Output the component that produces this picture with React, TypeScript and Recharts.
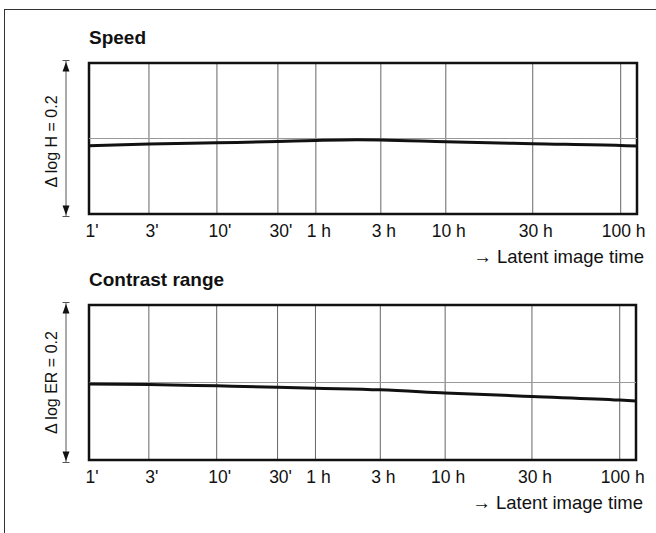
import { LineChart, Line, XAxis, YAxis, CartesianGrid, ReferenceLine, ReferenceArea, Label } from 'recharts';

// time axis (minutes) and its labels
const tickMinutes = [1, 3, 10, 30, 60, 180, 600, 1800, 6000];
const tickLabels = ["1'", "3'", "10'", "30'", '1 h', '3 h', '10 h', '30 h', '100 h'];
const axisEndMinutes = 7500;

// Speed: change of log H against latent image time
const speedMinutes = [1, 3, 10, 30, 60, 120, 180, 600, 1800, 6000, 7500];
const speedDelta = [-0.0097, -0.0074, -0.0057, -0.004, -0.0026, -0.0017, -0.002, -0.0044, -0.007, -0.0093, -0.01];

// Contrast range: change of log ER against latent image time
const contrastMinutes = [1, 3, 10, 30, 60, 180, 600, 1800, 6000, 7500];
const contrastDelta = [-0.002, -0.0026, -0.0043, -0.006, -0.0073, -0.0095, -0.0134, -0.0181, -0.0227, -0.024];

// the printed time scale is hand spaced, so map minutes onto it piecewise (log between ticks)
const axisStops = [0, 60, 128, 189, 227, 292, 357, 444, 532];
const logTicks = tickMinutes.map(Math.log10);

function toAxis(min: number) {
  const lm = Math.log10(min);
  let i = 0;
  while (i < logTicks.length - 2 && lm > logTicks[i + 1]) i++;
  const t = (lm - logTicks[i]) / (logTicks[i + 1] - logTicks[i]);
  return axisStops[i] + t * (axisStops[i + 1] - axisStops[i]);
}

const xTicks = tickMinutes.map(toAxis);
const xMax = toAxis(axisEndMinutes);
const FONT = '"Liberation Sans", Arial, Helvetica, sans-serif';

function TimeTick(props: any) {
  const { x, y, payload } = props;
  const idx = xTicks.findIndex((v) => Math.abs(v - payload.value) < 0.5);
  return (
    <text x={x + 3} y={y} dy="0.71em" textAnchor="middle" fontSize={17.5} fill="#111" fontFamily={FONT}>
      {tickLabels[idx]}
    </text>
  );
}

interface PanelProps {
  title: string;
  yLabel: string;
  minutes: number[];
  delta: number[];
  height: number;
  top: number;
  right: number;
  labelShift: number;
}

function Panel({ title, yLabel, minutes, delta, height, top, right, labelShift }: PanelProps) {
  const data = minutes.map((m, i) => ({ x: toAxis(m), v: delta[i] }));

  const side = (p: any) => {
    const vb = p.viewBox || { x: 29, y: top, width: 60, height: height - top - 56 };
    const ax = vb.x + 37;
    const y0 = vb.y - 2.5;
    const y1 = vb.y + vb.height + 2.5;
    const cy = vb.y + vb.height / 2 + labelShift;
    return (
      <g>
        <text x={vb.x + vb.width} y={vb.y - 19.5} fontSize={19} fontWeight="bold" fill="#111" fontFamily={FONT}>
          {title}
        </text>
        <line x1={ax} x2={ax} y1={y0} y2={y1} stroke="#555" strokeWidth={1} />
        <line x1={ax - 3.5} x2={ax + 3.5} y1={y0} y2={y0} stroke="#555" strokeWidth={1} />
        <line x1={ax - 3.5} x2={ax + 3.5} y1={y1} y2={y1} stroke="#555" strokeWidth={1} />
        <path d={`M${ax},${y0 + 1.5} L${ax - 3.5},${y0 + 11} L${ax + 3.5},${y0 + 11} Z`} fill="#111" />
        <path d={`M${ax},${y1 - 1.5} L${ax - 3.5},${y1 - 11} L${ax + 3.5},${y1 - 11} Z`} fill="#111" />
        <text
          x={vb.x + 27.5}
          y={cy}
          transform={`rotate(-90 ${vb.x + 27.5} ${cy})`}
          textAnchor="middle"
          fontSize={16}
          fill="#111"
          fontFamily={FONT}
        >
          {yLabel}
        </text>
      </g>
    );
  };

  const axisTitle = (p: any) => {
    const vb = p.viewBox || { x: 89, y: height - 56, width: 548, height: 56 };
    return (
      <text x={vb.x + vb.width + 7} y={vb.y + 49} textAnchor="end" fontSize={18.5} fill="#111" fontFamily={FONT}>
        {'\u2192 Latent image time'}
      </text>
    );
  };

  return (
    <LineChart width={656} height={height} data={data} margin={{ top, right, bottom: 0, left: 29 }}>
      <CartesianGrid horizontal={false} stroke="#666" strokeWidth={1} />
      <ReferenceLine y={0} stroke="#999" strokeWidth={1} />
      <XAxis
        type="number"
        dataKey="x"
        domain={[0, xMax]}
        ticks={xTicks}
        interval={0}
        allowDataOverflow
        axisLine={false}
        tickLine={false}
        tickSize={6}
        tickMargin={5}
        height={56}
        tick={<TimeTick />}
      >
        <Label content={axisTitle} />
      </XAxis>
      <YAxis
        type="number"
        domain={[-0.1, 0.1]}
        ticks={[-0.1, 0, 0.1]}
        allowDataOverflow
        width={60}
        tick={false}
        axisLine={false}
        tickLine={false}
      >
        <Label content={side} />
      </YAxis>
      <Line
        type="monotone"
        dataKey="v"
        stroke="#111"
        strokeWidth={3}
        dot={false}
        activeDot={false}
        isAnimationActive={false}
      />
      <ReferenceArea x1={0} x2={xMax} y1={-0.1} y2={0.1} fill="none" stroke="#111" strokeWidth={2.5} />
    </LineChart>
  );
}

export default function App() {
  return (
    <div
      style={{
        position: 'absolute',
        left: 0,
        top: 0,
        width: 656,
        height: 533,
        overflow: 'hidden',
        background: '#fff',
        fontFamily: FONT,
      }}
    >
      <div
        style={{
          position: 'absolute',
          left: 4,
          top: 9,
          width: 700,
          height: 600,
          borderTop: '1.5px solid #333',
          borderLeft: '1.5px solid #333',
        }}
      />
      <div style={{ position: 'absolute', left: 0, top: 0 }}>
        <Panel
          title="Speed"
          yLabel="Δ log H = 0.2"
          minutes={speedMinutes}
          delta={speedDelta}
          height={270}
          top={63}
          right={19}
          labelShift={3}
        />
      </div>
      <div style={{ position: 'absolute', left: 0, top: 270 }}>
        <Panel
          title="Contrast range"
          yLabel="Δ log ER = 0.2"
          minutes={contrastMinutes}
          delta={contrastDelta}
          height={246}
          top={35}
          right={20}
          labelShift={0}
        />
      </div>
    </div>
  );
}
